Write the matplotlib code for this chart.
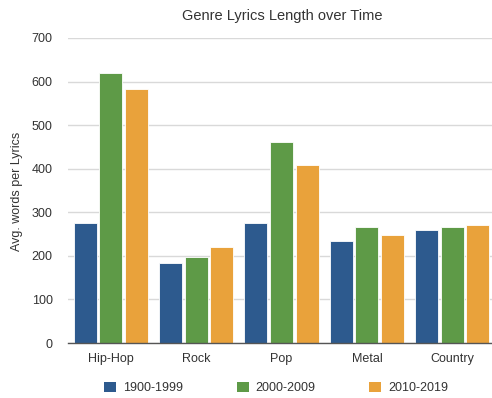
import matplotlib
matplotlib.use("Agg")
import matplotlib.pyplot as plt
import numpy as np
from matplotlib.patches import Patch

plt.rcParams['font.family'] = ['Liberation Sans', 'DejaVu Sans']

genres = ["Hip-Hop", "Rock", "Pop", "Metal", "Country"]
series_names = ["1900-1999", "2000-2009", "2010-2019"]
vals_1900_1999 = [275, 183, 275, 234, 259]
vals_2000_2009 = [619, 197, 461, 266, 266]
vals_2010_2019 = [582, 220, 408, 248, 270]
colors = ["#2d5a8e", "#5e9a47", "#e9a23b"]

W, H = 492, 398
fig = plt.figure(figsize=(W / 100, H / 100), dpi=100)
ax = fig.add_axes([68 / W, (H - 343) / H, (495 - 68) / W, (343 - 38) / H])

x = np.arange(len(genres))
bw = 0.27
off = 0.30
for i, (vals, c, name) in enumerate(zip([vals_1900_1999, vals_2000_2009, vals_2010_2019], colors, series_names)):
    ax.bar(x + (i - 1) * off, vals, width=bw, color=c, edgecolor="white", linewidth=0.6, label=name, zorder=3)

ax.set_xlim(-0.5, len(genres) - 0.5)
ax.set_ylim(0, 700)
ax.set_yticks(range(0, 701, 100))
ax.set_xticks(x)
ax.set_xticklabels(genres)
ax.tick_params(axis='both', length=0, labelsize=9, colors="#333333")
ax.tick_params(axis='y', pad=11)
ax.tick_params(axis='x', pad=7)
ax.grid(axis='y', color="#d9d9d9", linewidth=1.0, zorder=0)
for s in ["top", "right", "left"]:
    ax.spines[s].set_visible(False)
ax.spines["bottom"].set_color("#555555")
ax.spines["bottom"].set_linewidth(1.0)
ax.spines["bottom"].set_zorder(4)

fig.text(17 / W, 1 - 191 / H, "Avg. words per Lyrics", rotation=90, ha="center", va="center",
         fontsize=9, color="#333333")
fig.text(282 / W, 1 - 16 / H, "Genre Lyrics Length over Time", ha="center", va="center", fontsize=10.5, color="#333333")

handles = [Patch(facecolor=c, edgecolor="none") for c in colors]
fig.legend(handles, series_names, loc="center", bbox_to_anchor=(276 / W, 1 - 388 / H), ncol=3,
           frameon=False, fontsize=9, handlelength=0.95, handleheight=0.95, handletextpad=0.55,
           columnspacing=4.3, labelcolor="#333333")

fig.savefig("out.png", dpi=100)
